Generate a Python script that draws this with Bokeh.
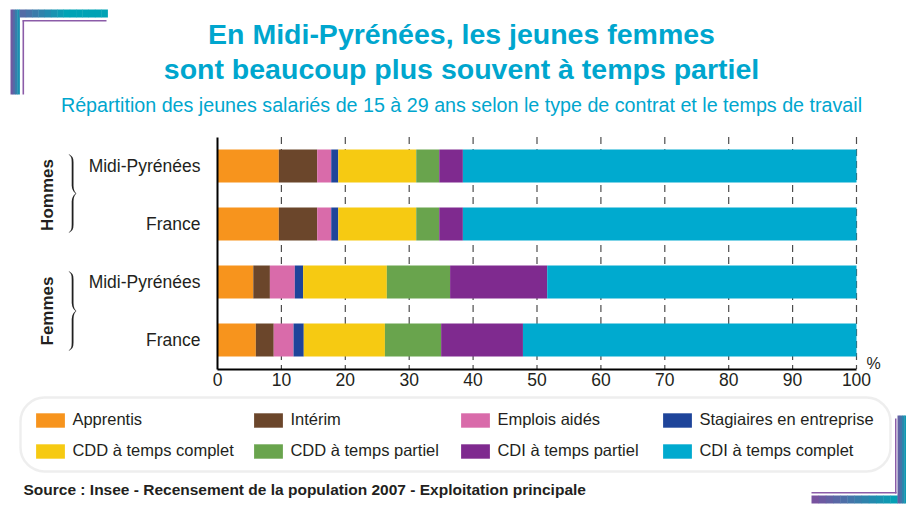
import numpy as np
from bokeh.plotting import figure
from bokeh.models import (ColumnDataSource, Range1d, FixedTicker, Label, Legend, LegendItem,
                          BoxAnnotation, PolyAnnotation)
from bokeh.embed import file_html
from bokeh.resources import INLINE

# ---------------- data ----------------
rows = ["Midi-Pyrénées", "France", "Midi-Pyrénées", "France"]
groups = ["Hommes", "Femmes"]
series = ["Apprentis", "Intérim", "Emplois aidés", "Stagiaires en entreprise",
          "CDD à temps complet", "CDD à temps partiel", "CDI à temps partiel",
          "CDI à temps complet"]
apprentis = [9.6, 9.6, 5.6, 6.0]
interim = [6.0, 6.0, 2.6, 2.8]
emplois_aides = [2.2, 2.2, 3.9, 3.1]
stagiaires = [1.1, 1.1, 1.3, 1.6]
cdd_complet = [12.2, 12.2, 13.1, 12.7]
cdd_partiel = [3.6, 3.6, 9.9, 8.8]
cdi_partiel = [3.7, 3.7, 15.2, 12.8]
cdi_complet = [61.6, 61.6, 48.4, 52.2]
x_ticks = [0, 10, 20, 30, 40, 50, 60, 70, 80, 90, 100]
colors = ["#F7941D", "#6B462B", "#D96BAA", "#1E449A",
          "#F6CA12", "#69A44D", "#7F2A8F", "#00AACF"]

title1 = "En Midi-Pyrénées, les jeunes femmes"
title2 = "sont beaucoup plus souvent à temps partiel"
subtitle = "Répartition des jeunes salariés de 15 à 29 ans selon le type de contrat et le temps de travail"
source_txt = "Source : Insee - Recensement de la population 2007 - Exploitation principale"

FONT = "Liberation Sans"
CYAN = "#00A6CE"
DARK = "#231F20"

keys = ["s%d" % i for i in range(len(series))]
values = [apprentis, interim, emplois_aides, stagiaires,
          cdd_complet, cdd_partiel, cdi_partiel, cdi_complet]
data = {"y": list(range(len(rows)))}
for k, v in zip(keys, values):
    data[k] = v
src = ColumnDataSource(data)

# ---------------- layout (page pixels) ----------------
W, H = 906, 506
X0, XPU = 217.0, 6.39        # pixel of 0 %, pixels per %
Y0, YPR = 165.5, 58.0        # pixel of first row centre, pixels per row
x_range = Range1d(-X0 / XPU, (W - X0) / XPU)
y_range = Range1d((H - Y0) / YPR, -Y0 / YPR)

p = figure(width=W, height=H, output_backend="svg", toolbar_location=None,
           x_range=x_range, y_range=y_range,
           min_border_left=0, min_border_right=0, min_border_top=0, min_border_bottom=0)
p.outline_line_color = None
p.background_fill_color = "white"
p.border_fill_color = "white"
p.xgrid.visible = False
p.ygrid.visible = False

nrows = len(rows)
# dashed vertical grid lines
p.segment(x0=x_ticks[1:], x1=x_ticks[1:], y0=-0.5, y1=nrows - 0.5,
          line_color="#4D4D4D", line_width=1.2, line_dash="7 5")

renderers = p.hbar_stack(keys, y="y", height=33 / YPR, color=colors, source=src,
                         line_color=None)

# axes drawn at fixed locations
xa = p.xaxis[0]
xa.fixed_location = nrows - 0.5
xa.bounds = (x_ticks[0], x_ticks[-1])
xa.ticker = FixedTicker(ticks=x_ticks)
xa.axis_line_width = 2
xa.axis_line_color = "black"
xa.major_tick_out = 0
xa.major_tick_in = 0
xa.minor_tick_out = 0
xa.minor_tick_in = 0
xa.major_label_standoff = 4
xa.major_label_text_font = FONT
xa.major_label_text_font_size = "17.5px"
xa.major_label_text_color = DARK

ya = p.yaxis[0]
ya.fixed_location = 0
ya.bounds = (-0.5, nrows - 0.5)
ya.ticker = FixedTicker(ticks=list(range(nrows)))
ya.major_label_overrides = {i: r for i, r in enumerate(rows)}
ya.axis_line_width = 2
ya.axis_line_color = "black"
ya.major_tick_out = 0
ya.major_tick_in = 0
ya.minor_tick_out = 0
ya.minor_tick_in = 0
ya.major_label_standoff = 17
ya.major_label_text_font = FONT
ya.major_label_text_font_size = "17.5px"
ya.major_label_text_color = DARK

# page -> screen (frame = whole canvas, y up)
def sx(px):
    return px
def sy(py):
    return H - py

# titles
for txt, py, size, style in [(title1, 33, "28.5px", "bold"),
                             (title2, 68, "28.5px", "bold"),
                             (subtitle, 104, "19.7px", "normal")]:
    p.add_layout(Label(x=sx(461), y=sy(py), x_units="screen", y_units="screen", text=txt,
                       text_align="center", text_baseline="middle", text_font=FONT,
                       text_font_size=size, text_font_style=style, text_color=CYAN))

# group labels
for gi, g in enumerate(groups):
    p.add_layout(Label(x=sx(47), y=2 * gi + 0.5, x_units="screen", y_units="data", text=g,
                       angle=np.pi / 2, text_align="center", text_baseline="middle",
                       text_font=FONT, text_font_size="17px", text_font_style="bold",
                       text_color=DARK))

# braces
def brace(x0, yt, yb):
    half = (yb - yt) / 2.0
    v = [0.0, 0.03, 0.07, 0.12, 0.2, 0.8, 0.88, 0.94, 0.98, 1.0]
    d = [0.0, 1.6, 2.8, 3.4, 3.6, 3.6, 4.0, 5.0, 6.2, 7.0]
    t = [0.6, 1.0, 1.4, 1.6, 1.7, 1.7, 1.5, 1.1, 0.8, 0.6]
    cy = [yt + vv * half for vv in v] + [yb - vv * half for vv in reversed(v[:-1])]
    cx = d + list(reversed(d[:-1]))
    ct = t + list(reversed(t[:-1]))
    xs = [x0 + a + b / 2 for a, b in zip(cx, ct)] + \
         [x0 + a - b / 2 for a, b in zip(reversed(cx), reversed(ct))]
    ys = cy + list(reversed(cy))
    return [sx(x) for x in xs], [sy(y) for y in ys]

for yt, yb in [(154, 232), (271, 350)]:
    bx, by = brace(68.5, yt, yb)
    p.add_layout(PolyAnnotation(xs=bx, ys=by, xs_units="screen", ys_units="screen",
                                fill_color="#222222", fill_alpha=1, line_color="#222222",
                                line_width=0.3))

# percent sign
p.add_layout(Label(x=sx(873), y=sy(363), x_units="screen", y_units="screen", text="%",
                   text_align="center", text_baseline="middle", text_font=FONT,
                   text_font_size="16px", text_color=DARK))

# legend frame
p.add_layout(BoxAnnotation(left=sx(20), right=sx(890), top=sy(397), bottom=sy(471),
                           left_units="screen", right_units="screen", top_units="screen",
                           bottom_units="screen", fill_alpha=0, line_color="#C8C8C8",
                           line_width=2.5, border_radius=24, level="overlay"))

# legends: 4 columns x 2 rows
col_x = [32.4, 250.4, 457.4, 659.4]
for c in range(4):
    items = [LegendItem(label=series[c], renderers=[renderers[c]]),
             LegendItem(label=series[c + 4], renderers=[renderers[c + 4]])]
    lg = Legend(items=items, location=(sx(col_x[c]), sy(460)), orientation="vertical",
                glyph_width=36, glyph_height=18, label_standoff=4, label_height=18,
                spacing=12, padding=0, margin=0, border_line_color=None,
                background_fill_alpha=0, label_text_font=FONT,
                label_text_font_size="16.5px", label_text_color=DARK)
    p.add_layout(lg, "center")

# source
p.add_layout(Label(x=sx(23), y=sy(489), x_units="screen", y_units="screen", text=source_txt,
                   text_align="left", text_baseline="middle", text_font=FONT,
                   text_font_size="15.5px", text_font_style="bold", text_color=DARK))

# corner decorations
PURPLE = np.array([125, 78, 158])
TEAL = np.array([0, 163, 181])
def mix(f):
    c = PURPLE * (1 - f) + TEAL * f
    return "#%02x%02x%02x" % tuple(int(round(v)) for v in c)

def band(x0, x1, y0, y1, f0, f1, n):
    edges = np.linspace(x0, x1, n + 1)
    for i in range(n):
        f = f0 + (f1 - f0) * (i + 0.5) / n
        p.add_layout(BoxAnnotation(left=sx(edges[i]), right=sx(edges[i + 1]) + 0.4,
                                   top=sy(y0), bottom=sy(y1), left_units="screen",
                                   right_units="screen", top_units="screen",
                                   bottom_units="screen", fill_color=mix(min(f, 1)),
                                   fill_alpha=1, line_alpha=0, level="overlay"))

band(10, 19, 9, 94, 0.0, 0.9, 4)
band(19, 107, 9, 17, 0.3, 1.6, 14)
band(811, 897, 495, 503, 0.0, 1.0, 12)
band(897, 906, 415, 503, 0.1, 1.0, 4)

LINE = "#8B5CA8"
for l, r, t, b in [(22, 23.6, 20, 94), (22, 106, 19.5, 21), (811, 896, 491.5, 493),
                   (894.5, 896, 418, 493)]:
    p.add_layout(BoxAnnotation(left=sx(l), right=sx(r), top=sy(t), bottom=sy(b),
                               left_units="screen", right_units="screen", top_units="screen",
                               bottom_units="screen", fill_color=LINE, fill_alpha=1,
                               line_alpha=0, level="overlay"))

open("out.html", "w").write(file_html(p, INLINE))
